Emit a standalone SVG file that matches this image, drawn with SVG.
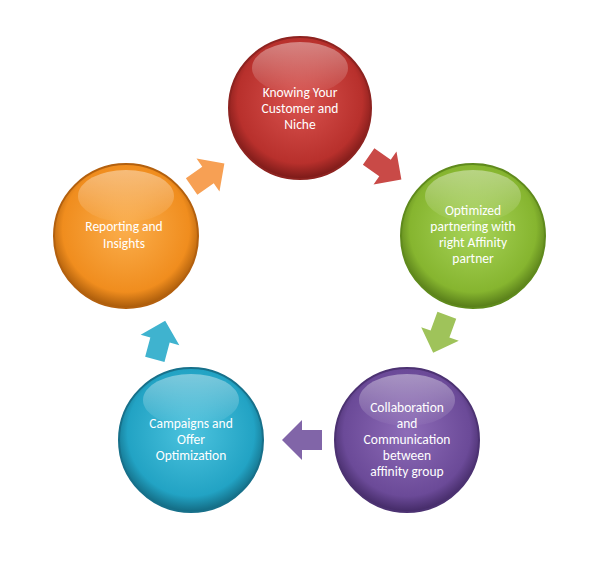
<svg xmlns="http://www.w3.org/2000/svg" width="606" height="570" viewBox="0 0 606 570">
<style>
text{font-family:"Carlito","Liberation Sans",sans-serif;font-size:13.5px;fill:#fff;text-anchor:middle}
</style>
<defs>
<radialGradient id="gR" cx="0.5" cy="0.45" r="0.55"><stop offset="0" stop-color="#d9534f"/><stop offset="0.8" stop-color="#b8302c"/><stop offset="1" stop-color="#7a1a18"/></radialGradient>
<radialGradient id="gG" cx="0.5" cy="0.45" r="0.55"><stop offset="0" stop-color="#a8d45a"/><stop offset="0.8" stop-color="#86b52f"/><stop offset="1" stop-color="#557a18"/></radialGradient>
<radialGradient id="gP" cx="0.5" cy="0.45" r="0.55"><stop offset="0" stop-color="#8e6cb8"/><stop offset="0.8" stop-color="#6b4a98"/><stop offset="1" stop-color="#432a66"/></radialGradient>
<radialGradient id="gB" cx="0.5" cy="0.45" r="0.55"><stop offset="0" stop-color="#4cc3de"/><stop offset="0.8" stop-color="#22a3c4"/><stop offset="1" stop-color="#136a82"/></radialGradient>
<radialGradient id="gO" cx="0.5" cy="0.45" r="0.55"><stop offset="0" stop-color="#fbae4c"/><stop offset="0.8" stop-color="#f08d1e"/><stop offset="1" stop-color="#a85a0a"/></radialGradient>
<linearGradient id="shine" x1="0" y1="0" x2="0" y2="1"><stop offset="0" stop-color="#fff" stop-opacity="0.4"/><stop offset="1" stop-color="#fff" stop-opacity="0.03"/></linearGradient>
<path id="arr" d="M-20,-10 L0,-10 L0,-20 L20,0 L0,20 L0,10 L-20,10 Z"/>
</defs>
<rect width="606" height="570" fill="#fff"/>
<g id="connectors">
<use href="#arr" transform="translate(385,168) rotate(35)" fill="#c94a47"/>
<use href="#arr" transform="translate(440,334) rotate(110)" fill="#9fc35a"/>
<use href="#arr" transform="translate(302,440) rotate(180)" fill="#8165a8"/>
<use href="#arr" transform="translate(160,340) rotate(-75)" fill="#3fb3cf"/>
<use href="#arr" transform="translate(208,175) rotate(-35)" fill="#f7a054"/>
</g>
<g id="n1"><circle cx="300" cy="108" r="71" fill="url(#gR)" stroke="#8d2320" stroke-width="2"/><ellipse cx="300" cy="68" rx="48" ry="26" fill="url(#shine)"/>
<text x="300" y="97">Knowing Your</text><text x="300" y="113">Customer and</text><text x="300" y="129">Niche</text></g>
<g id="n2"><circle cx="473" cy="236" r="72" fill="url(#gG)" stroke="#5f8a1c" stroke-width="2"/><ellipse cx="473" cy="196" rx="48" ry="26" fill="url(#shine)"/>
<text x="473" y="215">Optimized</text><text x="473" y="231">partnering with</text><text x="473" y="247">right Affinity</text><text x="473" y="263">partner</text></g>
<g id="n3"><circle cx="407" cy="440" r="72" fill="url(#gP)" stroke="#4c3272" stroke-width="2"/><ellipse cx="407" cy="400" rx="48" ry="26" fill="url(#shine)"/>
<text x="407" y="412">Collaboration</text><text x="407" y="428">and</text><text x="407" y="444">Communication</text><text x="407" y="460">between</text><text x="407" y="476">affinity group</text></g>
<g id="n4"><circle cx="191" cy="440" r="72" fill="url(#gB)" stroke="#17708a" stroke-width="2"/><ellipse cx="191" cy="400" rx="48" ry="26" fill="url(#shine)"/>
<text x="191" y="428">Campaigns and</text><text x="191" y="444">Offer</text><text x="191" y="460">Optimization</text></g>
<g id="n5"><circle cx="126" cy="236" r="72" fill="url(#gO)" stroke="#b3600e" stroke-width="2"/><ellipse cx="126" cy="196" rx="48" ry="26" fill="url(#shine)"/>
<text x="124" y="231">Reporting and</text><text x="124" y="248">Insights</text></g>
</svg>
